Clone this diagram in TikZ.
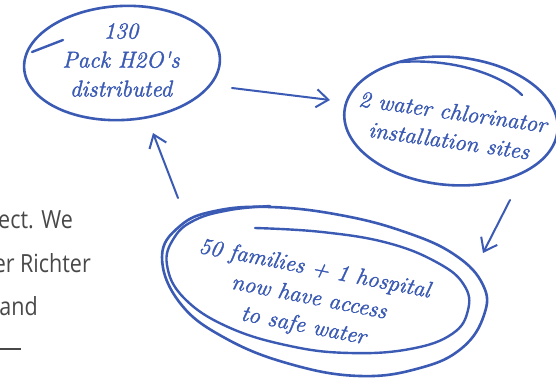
\documentclass[tikz,border=0pt]{standalone}
\usepackage{fontspec}
\newfontfamily\sidefont[FakeStretch=0.86]{Open Sans}
\newfontfamily\handfont[FakeBold=1.6]{Latin Modern Roman}
\usetikzlibrary{shapes.geometric,arrows.meta}
\definecolor{pen}{RGB}{58,90,180}
\definecolor{sidegray}{RGB}{72,72,72}
\tikzset{
  bubble/.style={draw=pen, line width=2.6pt, ellipse, inner sep=0pt},
  penstroke/.style={draw=pen, line width=2.4pt, line cap=round, line join=round},
  hand/.style={text=pen, font=\handfont\itshape\fontsize{23}{29}\selectfont, align=center, inner sep=0pt},
  arr/.style={draw=pen, line width=2pt, line cap=round, -{Straight Barb[length=12pt,width=18pt,line width=2pt]}},
  side/.style={text=sidegray, font=\sidefont\fontsize{25}{30}\selectfont, anchor=base east, inner sep=0pt},
}
\begin{document}
\begin{tikzpicture}[x=1pt,y=-1pt]
\useasboundingbox (0,0) rectangle (556,383);
\clip (0,0) rectangle (556,383);
% bubbles
\node[bubble, minimum width=196pt, minimum height=114pt, rotate=3] (e1) at (122,63) {};
\node[bubble, minimum width=214pt, minimum height=128pt, rotate=-5] (e2) at (451,121) {};
\node[ellipse, minimum width=326pt, minimum height=168pt, rotate=-8, inner sep=0pt] (e3) at (324,291) {};
\draw[penstroke, line width=2.6pt] plot[smooth cycle, tension=0.7] coordinates {
  (162,257) (180,226) (215,211) (270,207) (340,215) (405,232) (455,255) (483,285)
  (484,315) (462,348) (420,368) (360,376) (290,364) (225,338) (180,303)};
\draw[penstroke] plot[smooth, tension=0.7] coordinates {
  (255,228) (322,232) (388,243) (438,263) (464,285) (468,310) (452,334) (410,349)
  (350,353) (290,346) (228,327) (184,298) (167,265) (174,238) (195,220) (230,210) (270,206)};
% extra pen strokes
\draw[penstroke] ([shift={(-90,-11)}]e1.center) -- ([shift={(-59,-23)}]e1.center);
\draw[penstroke] ([shift={(-51,-59)}]e2.center) .. controls ([shift={(9,-63)}]e2.center) and ([shift={(54,-43)}]e2.center) .. ([shift={(71,-26)}]e2.center);
% texts
\node[hand] (t1) at (121,60) {130\\Pack H2O's\\distributed};
\node[hand, rotate=-8] (t2) at (451,126) {2 water chlorinator\\installation sites};
\node[hand, rotate=-11] (t3) at (309,298) {50 families + 1 hospital\\now have access\\to safe water};
% connectors
\draw[arr] ([shift={(110,25)}]e1.center) -- ([shift={(-121,-21)}]e2.center);
\draw[arr] ([shift={(59,79)}]e2.center) -- ([shift={(159,-38)}]e3.center);
\draw[arr] ([shift={(-146,-93)}]e3.center) -- ([shift={(31,70)}]e1.center);
% side text
\node[side] (s1) at (73,228) {ect. We};
\node[side] (s2) at (91,272) {er Richter};
\node[side] (s3) at (38,315) {and};
\coordinate (d0) at (0,349);
\coordinate (d1) at (21,349);
\draw[sidegray, line width=1.2pt] (d0) -- (d1);
\end{tikzpicture}
\end{document}
